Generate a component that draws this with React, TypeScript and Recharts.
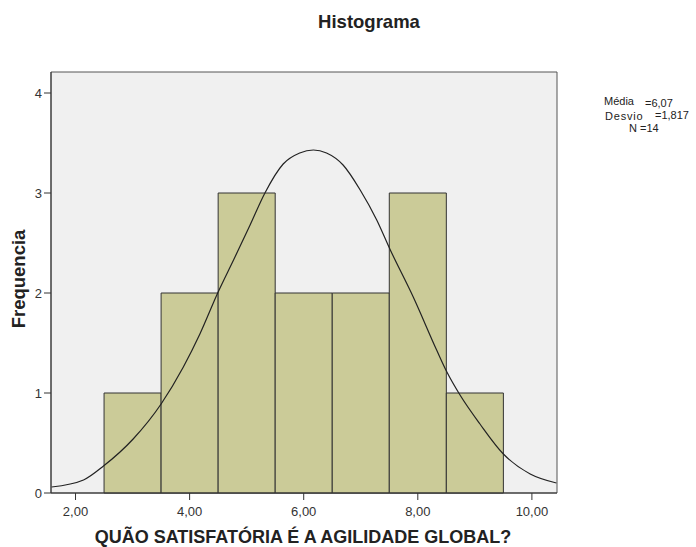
import React from "react";
import { ComposedChart, Line, XAxis, YAxis, ReferenceArea } from "recharts";

// Histogram bins (value ranges) and counts
const binStarts = [2.5, 3.5, 4.5, 5.5, 6.5, 7.5, 8.5];
const binEnds = [3.5, 4.5, 5.5, 6.5, 7.5, 8.5, 9.5];
const counts = [1, 2, 3, 2, 2, 3, 1];

// Normal curve points
const curveX = [1.58, 2.14, 2.49, 3.01, 3.5, 3.89, 4.18, 4.5, 4.77, 5.06, 5.32, 5.64, 5.93, 6.17, 6.4, 6.69, 6.99, 7.28, 7.51, 7.92, 8.33, 8.51, 8.74, 9.09, 9.5, 9.97, 10.43];
const curveY = [0.06, 0.13, 0.27, 0.54, 0.89, 1.26, 1.59, 2.01, 2.33, 2.68, 3.0, 3.29, 3.4, 3.43, 3.4, 3.28, 3.03, 2.73, 2.44, 1.96, 1.43, 1.21, 0.98, 0.69, 0.39, 0.19, 0.1];

const xTicks = [2, 4, 6, 8, 10];
const yTicks = [0, 1, 2, 3, 4];
const xDomain = [1.57, 10.44];
const yDomain = [0, 4.21];

const title = "Histograma";
const xTitle = "QUÃO SATISFATÓRIA É A AGILIDADE GLOBAL?";
const yTitle = "Frequencia";
const statLabels = ["Média", "Desvio", "N"];
const statValues = ["=6,07", "=1,817", "=14"];

const curve = curveX.map((x, i) => ({ x, y: curveY[i] }));
const bins = binStarts.map((s, i) => ({ s, e: binEnds[i], c: counts[i] }));

const FONT = '"Liberation Sans", Arial, sans-serif';

const small: React.CSSProperties = { position: "absolute", transform: "translateY(-50%)", fontSize: 11, color: "#222", whiteSpace: "nowrap", lineHeight: 1 };

export default function App() {
  return (
    <div style={{ position: "absolute", left: 0, top: 0, width: 696, height: 547, background: "#fff", fontFamily: FONT }}>
      <ComposedChart
        width={696}
        height={547}
        data={curve}
        margin={{ top: 72, right: 139, bottom: 24, left: 0 }}
      >
        <XAxis
          dataKey="x"
          type="number"
          domain={xDomain}
          ticks={xTicks}
          allowDataOverflow
          height={30}
          tickSize={7}
          tickMargin={7}
          stroke="#333"
          tick={{ fontSize: 13, fill: "#333", fontFamily: FONT }}
          tickFormatter={(v: number) => v.toFixed(2).replace(".", ",")}
        />
        <YAxis
          type="number"
          domain={yDomain}
          ticks={yTicks}
          allowDataOverflow
          width={51}
          tickSize={7}
          tickMargin={2}
          stroke="#333"
          tick={{ fontSize: 13, fill: "#333", fontFamily: FONT }}
        />
        <ReferenceArea
          x1={xDomain[0]}
          x2={xDomain[1]}
          y1={yDomain[0]}
          y2={yDomain[1]}
          fill="#F0F0F0"
          fillOpacity={1}
          stroke="#555"
          strokeWidth={1}
          ifOverflow="visible"
        />
        {bins.map((b, i) => (
          <ReferenceArea
            key={i}
            x1={b.s}
            x2={b.e}
            y1={0}
            y2={b.c}
            fill="#CBCB98"
            fillOpacity={1}
            stroke="#333"
            strokeWidth={1}
            ifOverflow="visible"
          />
        ))}
        <Line
          dataKey="y"
          type="monotone"
          dot={false}
          activeDot={false}
          stroke="#222"
          strokeWidth={1.2}
          isAnimationActive={false}
        />
      </ComposedChart>

      <div style={{ position: "absolute", left: 369, top: 22, transform: "translate(-50%,-50%)", fontSize: 18.5, fontWeight: "bold", color: "#222", whiteSpace: "nowrap", lineHeight: 1 }}>
        {title}
      </div>
      <div style={{ position: "absolute", left: 303, top: 537, transform: "translate(-50%,-50%)", fontSize: 18, fontWeight: "bold", color: "#222", whiteSpace: "nowrap", lineHeight: 1 }}>
        {xTitle}
      </div>
      <div style={{ position: "absolute", left: 19, top: 279, transform: "translate(-50%,-50%) rotate(-90deg)", fontSize: 18.5, fontWeight: "bold", color: "#222", whiteSpace: "nowrap", lineHeight: 1 }}>
        {yTitle}
      </div>
      <div style={{ ...small, left: 604, top: 101 }}>{statLabels[0]}</div>
      <div style={{ ...small, left: 645, top: 103 }}>{statValues[0]}</div>
      <div style={{ ...small, left: 605, top: 116, letterSpacing: 0.8 }}>{statLabels[1]}</div>
      <div style={{ ...small, left: 655, top: 115 }}>{statValues[1]}</div>
      <div style={{ ...small, left: 629, top: 128 }}>{statLabels[2] + " " + statValues[2]}</div>
    </div>
  );
}
